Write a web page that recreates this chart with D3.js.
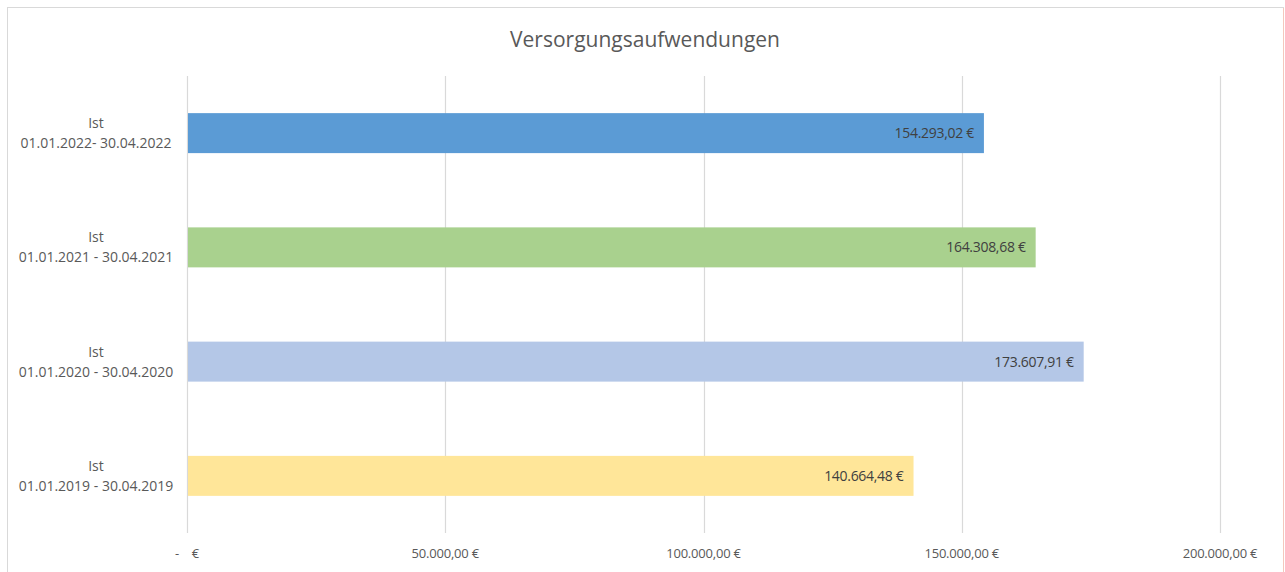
<!DOCTYPE html>
<html>
<head>
<meta charset="utf-8">
<script src="https://cdn.jsdelivr.net/npm/d3@7"></script>
<style>
	body { margin: 0; background: #fff; }
	svg { display: block; font-family: "Open Sans", "Liberation Sans", sans-serif; }
</style>
</head>
<body>
<svg id="chart" width="1285" height="572"></svg>
<script>
const title = "Versorgungsaufwendungen";
const categories = [
	["Ist", "01.01.2022- 30.04.2022"],
	["Ist", "01.01.2021 - 30.04.2021"],
	["Ist", "01.01.2020 - 30.04.2020"],
	["Ist", "01.01.2019 - 30.04.2019"]
];
const values = [154293.02, 164308.68, 173607.91, 140664.48];
const barColors = ["#5b9bd5", "#a9d18e", "#b4c7e7", "#ffe699"];
const xTicks = [0, 50000, 100000, 150000, 200000];

const svg = d3.select("#chart");
const margin = { top: 76, right: 65, bottom: 39, left: 187 };
const width = 1285, height = 572;

// euro formatting in German style
const de = d3.formatLocale({ decimal: ",", thousands: ".", grouping: [3], currency: ["", " €"] });
const fmt = de.format(",.2f");
const euro = v => (v === 0 ? "-\u00a0\u00a0\u00a0\u00a0€" : fmt(v) + " €");

// chart frame
svg.append("rect")
	.attr("x", 7.5).attr("y", 7.5)
	.attr("width", 1276).attr("height", 580)
	.attr("fill", "none")
	.attr("stroke", "#d9d9d9");
svg.append("line")
	.attr("x1", 1283.5).attr("x2", 1283.5)
	.attr("y1", 8).attr("y2", 572)
	.attr("stroke", "#f4c7bd");

const x = d3.scaleLinear()
	.domain([0, 200000])
	.range([margin.left, width - margin.right]);

const y = d3.scaleBand()
	.domain(categories.map((d, i) => i))
	.range([margin.top, height - margin.bottom])
	.paddingInner(0.65)
	.paddingOuter(0.325);

// gridlines
svg.append("g")
	.selectAll("line")
	.data(xTicks)
	.join("line")
	.attr("x1", d => Math.round(x(d)) + 0.5)
	.attr("x2", d => Math.round(x(d)) + 0.5)
	.attr("y1", margin.top)
	.attr("y2", height - margin.bottom)
	.attr("stroke", "#d9d9d9")
	.attr("stroke-width", 1.2);

// x tick labels
svg.append("g")
	.selectAll("text")
	.data(xTicks)
	.join("text")
	.attr("x", d => x(d))
	.attr("y", 558)
	.attr("text-anchor", "middle")
	.attr("fill", "#595959")
	.style("font-size", "13px")
	.style("letter-spacing", "-0.2px")
	.text(euro);

// bars
svg.append("g")
	.selectAll("rect")
	.data(values)
	.join("rect")
	.attr("x", x(0) + 1)
	.attr("y", (d, i) => y(i))
	.attr("width", d => x(d) - x(0) - 1)
	.attr("height", y.bandwidth())
	.attr("fill", (d, i) => barColors[i]);

// data labels, inside end
svg.append("g")
	.selectAll("text")
	.data(values)
	.join("text")
	.attr("x", d => x(d) - 10)
	.attr("y", (d, i) => y(i) + y.bandwidth() / 2)
	.attr("dy", "0.35em")
	.attr("text-anchor", "end")
	.attr("fill", "#404040")
	.style("font-size", "14px")
	.style("letter-spacing", "-0.3px")
	.text(euro);

// category labels
const catLabels = svg.append("g")
	.selectAll("text")
	.data(categories)
	.join("text")
	.attr("text-anchor", "middle")
	.attr("fill", "#595959")
	.style("font-size", "14px");
catLabels.selectAll("tspan")
	.data((d, i) => d.map(line => ({ line, i })))
	.join("tspan")
	.attr("x", 96)
	.attr("y", (d, j) => y(d.i) + y.bandwidth() / 2 - 5 + j * 20)
	.text(d => d.line);

// title
svg.append("text")
	.attr("x", 645)
	.attr("y", 47)
	.attr("text-anchor", "middle")
	.attr("fill", "#595959")
	.style("font-size", "21px")
	.text(title);
</script>
</body>
</html>
